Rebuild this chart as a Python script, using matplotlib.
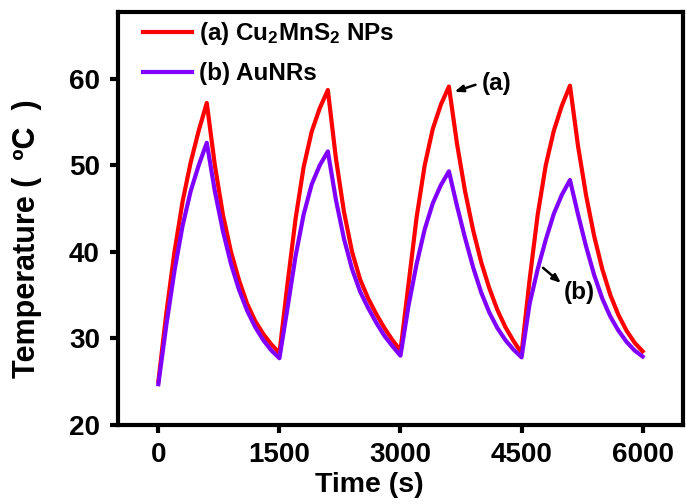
import matplotlib
matplotlib.use("Agg")
import matplotlib.pyplot as plt

plt.rcParams['font.family'] = ['Liberation Sans', 'DejaVu Sans']
plt.rcParams['font.weight'] = 'bold'
plt.rcParams['mathtext.default'] = 'regular'

time_s = [0, 100, 200, 300, 400, 500, 600, 700, 800, 900, 1000, 1100, 1200, 1300, 1400,
          1500, 1600, 1700, 1800, 1900, 2000, 2100, 2200, 2300, 2400, 2500, 2600, 2700, 2800, 2900,
          3000, 3100, 3200, 3300, 3400, 3500, 3600, 3700, 3800, 3900, 4000, 4100, 4200, 4300, 4400,
          4500, 4600, 4700, 4800, 4900, 5000, 5100, 5200, 5300, 5400, 5500, 5600, 5700, 5800, 5900,
          6000]

temp_cu2mns2 = [25.0, 33.0, 40.0, 45.8, 50.3, 54.0, 57.2, 50.0, 44.3, 40.0, 36.7, 34.0, 32.0, 30.5, 29.3,
                28.3, 36.3, 43.8, 49.8, 53.9, 56.6, 58.7, 50.8, 44.6, 40.0, 36.8, 34.6, 32.8, 31.2, 29.8,
                28.6, 36.3, 44.0, 50.0, 54.2, 57.0, 59.1, 52.5, 47.0, 42.5, 38.8, 35.8, 33.3, 31.3, 29.7,
                28.3, 36.8, 44.3, 50.0, 54.0, 56.9, 59.2, 52.2, 46.5, 41.8, 38.0, 35.0, 32.7, 30.9, 29.5,
                28.5]

temp_aunrs = [24.7, 31.6, 37.8, 43.0, 47.0, 50.0, 52.6, 47.0, 42.4, 38.6, 35.6, 33.2, 31.3, 29.8, 28.6,
              27.7, 33.5, 39.5, 44.3, 47.8, 50.0, 51.6, 46.0, 41.5, 38.0, 35.4, 33.5, 31.8, 30.3, 29.1,
              28.0, 33.8, 38.6, 42.6, 45.6, 47.7, 49.3, 45.3, 41.6, 38.2, 35.3, 33.0, 31.2, 29.8, 28.7,
              27.8, 34.0, 38.0, 41.4, 44.4, 46.6, 48.3, 44.3, 40.6, 37.3, 34.6, 32.5, 30.9, 29.6, 28.6,
              27.9]

labels = [r"(a) Cu$_2$MnS$_2$ NPs", "(b) AuNRs"]
colors = ["#FF0000", "#8000FF"]
x_ticks = [0, 1500, 3000, 4500, 6000]
y_ticks = [20, 30, 40, 50, 60]

fig = plt.figure(figsize=(6.86, 5.04), dpi=100)
ax = fig.add_axes([0.172, 0.157, 0.8236, 0.819])

ax.plot(time_s, temp_cu2mns2, color=colors[0], lw=3, label=labels[0], solid_joinstyle='round')
ax.plot(time_s, temp_aunrs, color=colors[1], lw=3, label=labels[1], solid_joinstyle='round')

ax.set_xlim(-500, 6500)
ax.set_ylim(20, 67.7)
ax.set_xticks(x_ticks)
ax.set_yticks(y_ticks)
ax.tick_params(axis='both', direction='out', length=6, width=3, labelsize=20)
ax.tick_params(axis='x', pad=6)
ax.tick_params(axis='y', pad=7)
for lab in ax.get_xticklabels() + ax.get_yticklabels():
    lab.set_fontweight('bold')
for sp in ax.spines.values():
    sp.set_linewidth(3)

ax.set_xlabel("Time (s)", fontsize=20.5, fontweight='bold')
ax.xaxis.set_label_coords(0.444, -0.113)
ax.set_ylabel("Temperature (  ºC  )", fontsize=22, fontweight='bold')
ax.yaxis.set_label_coords(-0.134, 0.452)

ax.legend(loc='upper left', bbox_to_anchor=(0.045, 0.98), frameon=False,
          prop={'size': 17.5, 'weight': 'bold'}, handlelength=2.0, handletextpad=0.3,
          labelspacing=0.62, borderaxespad=0.0, borderpad=0.0)

ax.annotate("", xy=(3670, 58.5), xytext=(3929, 59.3),
            arrowprops=dict(arrowstyle='-|>,head_length=0.5,head_width=0.2', color='black',
                            lw=1.8, shrinkA=0, shrinkB=0))
ax.text(4002, 59.5, "(a)", fontsize=17.5, fontweight='bold', ha='left', va='center')
ax.annotate("", xy=(4988, 36.4), xytext=(4766, 38.15),
            arrowprops=dict(arrowstyle='-|>,head_length=0.5,head_width=0.2', color='black',
                            lw=1.8, shrinkA=0, shrinkB=0))
ax.text(5025, 35.3, "(b)", fontsize=17.5, fontweight='bold', ha='left', va='center')

fig.savefig("out.png", dpi=100)
